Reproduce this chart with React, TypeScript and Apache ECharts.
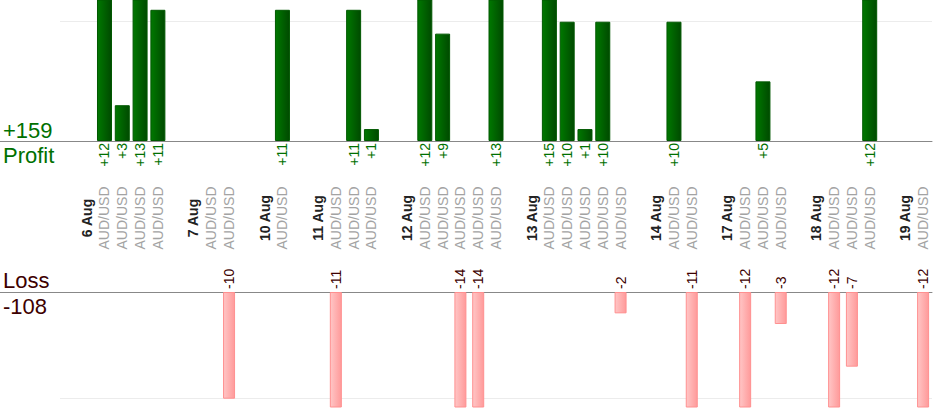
import React, { useEffect, useRef } from "react";
import * as echarts from "echarts";

const N = null;

const slotLabels = [
  "", "6 Aug", "AUD/USD", "AUD/USD", "AUD/USD", "AUD/USD",
  "", "7 Aug", "AUD/USD", "AUD/USD",
  "", "10 Aug", "AUD/USD",
  "", "11 Aug", "AUD/USD", "AUD/USD", "AUD/USD",
  "", "12 Aug", "AUD/USD", "AUD/USD", "AUD/USD", "AUD/USD", "AUD/USD",
  "", "13 Aug", "AUD/USD", "AUD/USD", "AUD/USD", "AUD/USD", "AUD/USD",
  "", "14 Aug", "AUD/USD", "AUD/USD",
  "", "17 Aug", "AUD/USD", "AUD/USD", "AUD/USD",
  "", "18 Aug", "AUD/USD", "AUD/USD", "AUD/USD",
  "", "19 Aug", "AUD/USD",
];

const profitValues = [
  N, N, 12, 3, 13, 11,
  N, N, N, N,
  N, N, 11,
  N, N, N, 11, 1,
  N, N, 12, 9, N, N, 13,
  N, N, 15, 10, 1, 10, N,
  N, N, 10, N,
  N, N, N, 5, N,
  N, N, N, N, 12,
  N, N, N,
];

const lossValues = [
  N, N, N, N, N, N,
  N, N, N, -10,
  N, N, N,
  N, N, -11, N, N,
  N, N, N, N, -14, -14, N,
  N, N, N, N, N, N, -2,
  N, N, N, -11,
  N, N, -12, N, -3,
  N, N, -12, -7, N,
  N, N, -12,
];

const FONT = "'Liberation Sans', Arial, Helvetica, sans-serif";
const GREEN_TEXT = "#007000";
const LOSS_TEXT = "#3d0000";

export default function App() {
  const ref = useRef<HTMLDivElement>(null);

  useEffect(() => {
    if (!ref.current) return;
    const chart = echarts.init(ref.current, null, { renderer: "svg" });

    const totalProfit = profitValues.reduce((a: number, v) => a + (v ?? 0), 0);
    const totalLoss = lossValues.reduce((a: number, v) => a + (v ?? 0), 0);

    const gridLeft = 60;
    const gridRight = 2;
    const topAxisY = 141;
    const bottomAxisY = 292;

    const option: any = {
      animation: false,
      textStyle: { fontFamily: FONT },
      grid: [
        { left: gridLeft, right: gridRight, top: 0, height: topAxisY },
        { left: gridLeft, right: gridRight, top: bottomAxisY, height: 115 },
      ],
      xAxis: [
        {
          type: "category",
          gridIndex: 0,
          data: slotLabels,
          boundaryGap: true,
          axisLine: { show: true, lineStyle: { color: "#888", width: 1 } },
          axisTick: { show: false },
          splitLine: { show: false },
          axisLabel: {
            interval: 0,
            rotate: 90,
            align: "center",
            verticalAlign: "middle",
            margin: 77,
            fontFamily: FONT,
            formatter: (v: string) => {
              if (!v) return "";
              if (v.indexOf("Aug") >= 0) return "{d|" + v + "}";
              return "{p|" + v + "}";
            },
            rich: {
              d: { fontWeight: "bold", color: "#222", fontSize: 14, fontFamily: FONT },
              p: { color: "#a3a3a3", fontSize: 14, fontFamily: FONT },
            },
          },
        },
        {
          type: "category",
          gridIndex: 1,
          data: slotLabels,
          position: "top",
          boundaryGap: true,
          axisLine: { show: true, lineStyle: { color: "#888", width: 1 } },
          axisTick: { show: false },
          axisLabel: { show: false },
          splitLine: { show: false },
        },
      ],
      yAxis: [
        {
          type: "value",
          gridIndex: 0,
          min: 0,
          max: 11.82,
          interval: 10,
          axisLine: { show: false },
          axisTick: { show: false },
          axisLabel: { show: false },
          splitLine: {
            show: true,
            showMinLine: false,
            showMaxLine: false,
            lineStyle: { color: "#ececec", width: 1 },
          },
        },
        {
          type: "value",
          gridIndex: 1,
          inverse: true,
          min: 0,
          max: 10.78,
          interval: 10,
          axisLine: { show: false },
          axisTick: { show: false },
          axisLabel: { show: false },
          splitLine: {
            show: true,
            showMinLine: false,
            showMaxLine: false,
            lineStyle: { color: "#ececec", width: 1 },
          },
        },
      ],
      series: [
        {
          type: "bar",
          xAxisIndex: 0,
          yAxisIndex: 0,
          data: profitValues,
          barWidth: 15,
          clip: true,
          itemStyle: {
            color: new echarts.graphic.LinearGradient(0, 0, 1, 0, [
              { offset: 0, color: "#007800" },
              { offset: 1, color: "#004a00" },
            ]),
            borderColor: "#005800",
            borderWidth: 1,
          },
          label: {
            show: true,
            position: "bottom",
            distance: 2,
            rotate: 90,
            align: "right",
            verticalAlign: "middle",
            color: GREEN_TEXT,
            fontSize: 14,
            fontFamily: FONT,
            formatter: (p: any) => "+" + p.value,
          },
        },
        {
          type: "bar",
          xAxisIndex: 1,
          yAxisIndex: 1,
          data: lossValues.map((v) => (v == null ? null : -v)),
          barWidth: 12,
          clip: true,
          itemStyle: {
            color: new echarts.graphic.LinearGradient(0, 0, 1, 0, [
              { offset: 0, color: "#ffc6c6" },
              { offset: 1, color: "#ff9a9a" },
            ]),
            borderColor: "#ff9090",
            borderWidth: 1,
          },
          label: {
            show: true,
            position: "top",
            distance: 3,
            rotate: 90,
            align: "left",
            verticalAlign: "middle",
            color: LOSS_TEXT,
            fontSize: 14,
            fontFamily: FONT,
            formatter: (p: any) => "-" + p.value,
          },
        },
      ],
      graphic: [
        {
          type: "line",
          shape: { x1: 0, y1: topAxisY + 0.5, x2: gridLeft + 1, y2: topAxisY + 0.5 },
          style: { stroke: "#888", lineWidth: 1 },
          silent: true,
        },
        {
          type: "line",
          shape: { x1: 0, y1: bottomAxisY + 0.5, x2: gridLeft + 1, y2: bottomAxisY + 0.5 },
          style: { stroke: "#888", lineWidth: 1 },
          silent: true,
        },
        {
          type: "text",
          x: 3,
          y: 130,
          style: {
            text: "+" + totalProfit,
            fill: GREEN_TEXT,
            font: "22px " + FONT,
            verticalAlign: "middle",
          },
        },
        {
          type: "text",
          x: 3,
          y: 155,
          style: {
            text: "Profit",
            fill: GREEN_TEXT,
            font: "22px " + FONT,
            verticalAlign: "middle",
          },
        },
        {
          type: "text",
          x: 3,
          y: 280,
          style: {
            text: "Loss",
            fill: LOSS_TEXT,
            font: "22px " + FONT,
            verticalAlign: "middle",
          },
        },
        {
          type: "text",
          x: 3,
          y: 306,
          style: {
            text: String(totalLoss),
            fill: LOSS_TEXT,
            font: "22px " + FONT,
            verticalAlign: "middle",
          },
        },
      ],
    };

    chart.setOption(option);
    return () => chart.dispose();
  }, []);

  return (
    <div
      ref={ref}
      style={{ position: "absolute", left: 0, top: 0, width: 934, height: 420 }}
    />
  );
}
